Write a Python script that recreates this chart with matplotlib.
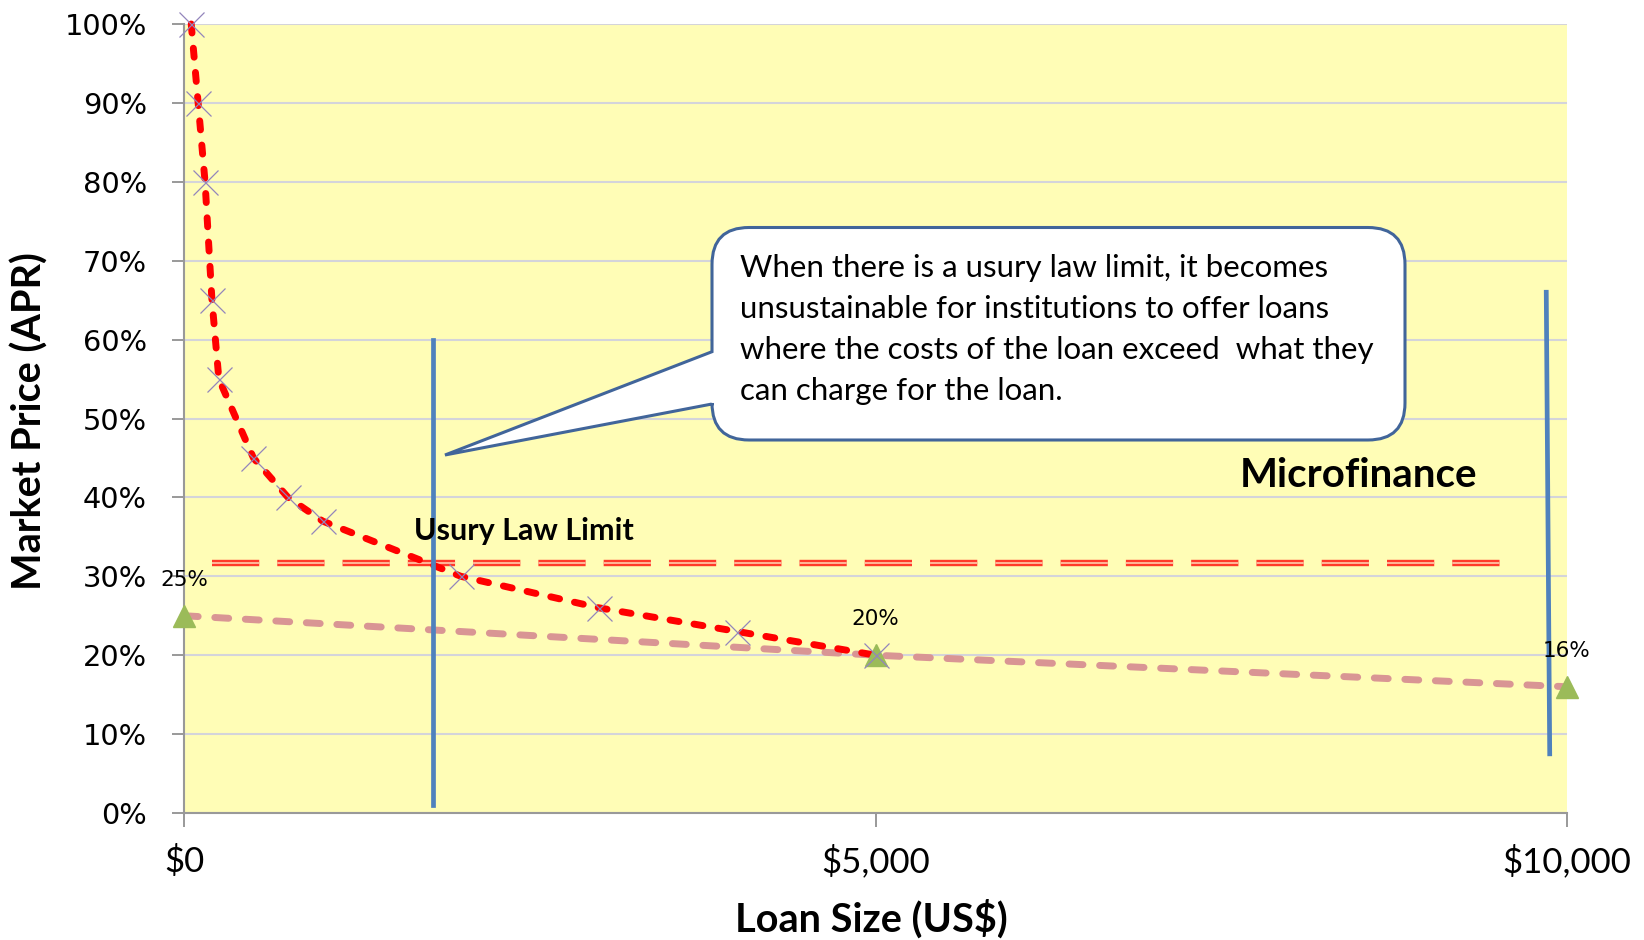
import numpy as np
import matplotlib
matplotlib.use('Agg')
import matplotlib.pyplot as plt
from matplotlib.path import Path
from matplotlib.patches import PathPatch
from matplotlib.transforms import Affine2D

# market price curve (red, x markers)
loan_size = [50, 100, 150, 200, 250, 500, 750, 1000, 2000, 3000, 4000, 5000]
market_price = [1.00, 0.90, 0.80, 0.65, 0.55, 0.45, 0.40, 0.37, 0.30, 0.26, 0.23, 0.20]

# microfinance trend (pink, triangles)
mf_size = [0, 5000, 10000]
mf_price = [0.25, 0.20, 0.16]
mf_labels = ['25%', '20%', '16%']

# usury law limit line
usury_x = [200, 9620]
usury_y = [0.317, 0.317]

# blue vertical markers
vline1_x = [1800, 1800]
vline1_y = [0.60, 0.01]
vline2_x = [9850, 9875]
vline2_y = [0.66, 0.075]

yticks = np.arange(0, 1.01, 0.1)
ytick_labels = ['%d%%' % round(v * 100) for v in yticks]
xticks = [0, 5000, 10000]
xtick_labels = ['$0', '$5,000', '$10,000']

callout_lines = ['When there is a usury law limit, it becomes',
                 'unsustainable for institutions to offer loans',
                 'where the costs of the loan exceed  what they',
                 'can charge for the loan.']

plt.rcParams['lines.scale_dashes'] = False

W, H = 1644, 940
fig = plt.figure(figsize=(W / 100, H / 100), dpi=100)
ax = fig.add_axes([184.3 / W, (H - 813) / H, 1382.7 / W, 789 / H])
ax.set_facecolor('#FFFDB6')
ax.set_xlim(0, 10000)
ax.set_ylim(0, 1)

# grid
ax.set_yticks(yticks)
ax.set_yticklabels(ytick_labels, fontsize=20.8, family='DejaVu Sans')
ax.set_xticks(xticks)
ax.set_xticklabels(xtick_labels, fontsize=25, family='Lato')
ax.yaxis.grid(True, color='#D4D4DA', lw=1.5)
ax.set_axisbelow(True)
ax.tick_params(axis='y', direction='out', length=9, width=1.2, color='#888888', pad=18)
ax.tick_params(axis='x', direction='out', length=10, width=1.2, color='#888888', pad=13)
for s in ['top', 'right']:
    ax.spines[s].set_visible(False)
for s in ['left', 'bottom']:
    ax.spines[s].set_color('#999999')
    ax.spines[s].set_linewidth(1.5)

# usury limit double dashed line
ax.plot(usury_x, usury_y, color='#FF3A2A', lw=4.6, dashes=(34, 13), dash_capstyle='butt', zorder=2)
ax.plot(usury_x, usury_y, color='#FFB79A', lw=1.4, dashes=(34, 13), dash_capstyle='butt', zorder=2)

# microfinance line
ax.plot(mf_size, mf_price, color='#D99594', lw=5, dashes=(10, 12), dash_capstyle='round', zorder=3)
ax.plot(mf_size, mf_price, ls='none', marker='^', ms=16, color='#9BBB59', clip_on=False, zorder=4)
for x, y, lab in zip(mf_size, mf_price, mf_labels):
    ax.annotate(lab, (x, y), xytext=(0, 26), textcoords='offset points', ha='center', va='center',
                fontsize=15.5, family='DejaVu Sans', zorder=6)

# market price curve
ax.plot(loan_size, market_price, color='#FF0000', lw=5, dashes=(6.5, 11), dash_capstyle='round',
        zorder=3, clip_on=False)
ax.plot(loan_size, market_price, ls='none', marker='x', ms=18, mew=0.9, color='#9385BC',
        clip_on=False, zorder=4)

# vertical blue lines
ax.plot(vline1_x, vline1_y, color='#4F81BD', lw=3.4, zorder=4)
ax.plot(vline2_x, vline2_y, color='#4F81BD', lw=3.4, zorder=4)

ax.text(2456, 0.357, 'Usury Law Limit', fontsize=22, fontweight='bold', family='Lato',
        ha='center', va='center', zorder=6)
ax.text(8495, 0.428, 'Microfinance', fontsize=29, fontweight='bold', family='Lato',
        ha='center', va='center', zorder=6)

# callout box (pixel coords, y down)
px = Affine2D().scale(1.0 / W, -1.0 / H).translate(0, 1) + fig.transFigure
l, r, t, b, rad = 712, 1405, 227.5, 440, 37
verts = [(l + rad, t), (r - rad, t), (r, t), (r, t + rad), (r, b - rad), (r, b), (r - rad, b),
         (l + rad, b), (l, b), (l, b - rad), (l, 404), (445, 455), (l, 351.7), (l, t + rad),
         (l, t), (l + rad, t), (l + rad, t)]
codes = [Path.MOVETO, Path.LINETO, Path.CURVE3, Path.CURVE3, Path.LINETO, Path.CURVE3, Path.CURVE3,
         Path.LINETO, Path.CURVE3, Path.CURVE3, Path.LINETO, Path.LINETO, Path.LINETO, Path.LINETO,
         Path.CURVE3, Path.CURVE3, Path.CLOSEPOLY]
patch = PathPatch(Path(verts, codes), facecolor='white', edgecolor='#41659A', lw=2.2,
                  transform=px, zorder=5)
fig.add_artist(patch)
for i, line in enumerate(callout_lines):
    fig.text(740, 268.4 + i * 40.9, line, transform=px, fontsize=22.5, family='Lato',
             ha='left', va='center', zorder=6)

fig.text(29.4, 421, 'Market Price (APR)', transform=px, rotation=90, fontsize=28.5,
         fontweight='bold', family='Lato', ha='center', va='center')
fig.text(871, 918.5, 'Loan Size (US$)', transform=px, fontsize=28.5, fontweight='bold',
         family='Lato', ha='center', va='center')

fig.savefig('out.png', dpi=100, facecolor='white')
